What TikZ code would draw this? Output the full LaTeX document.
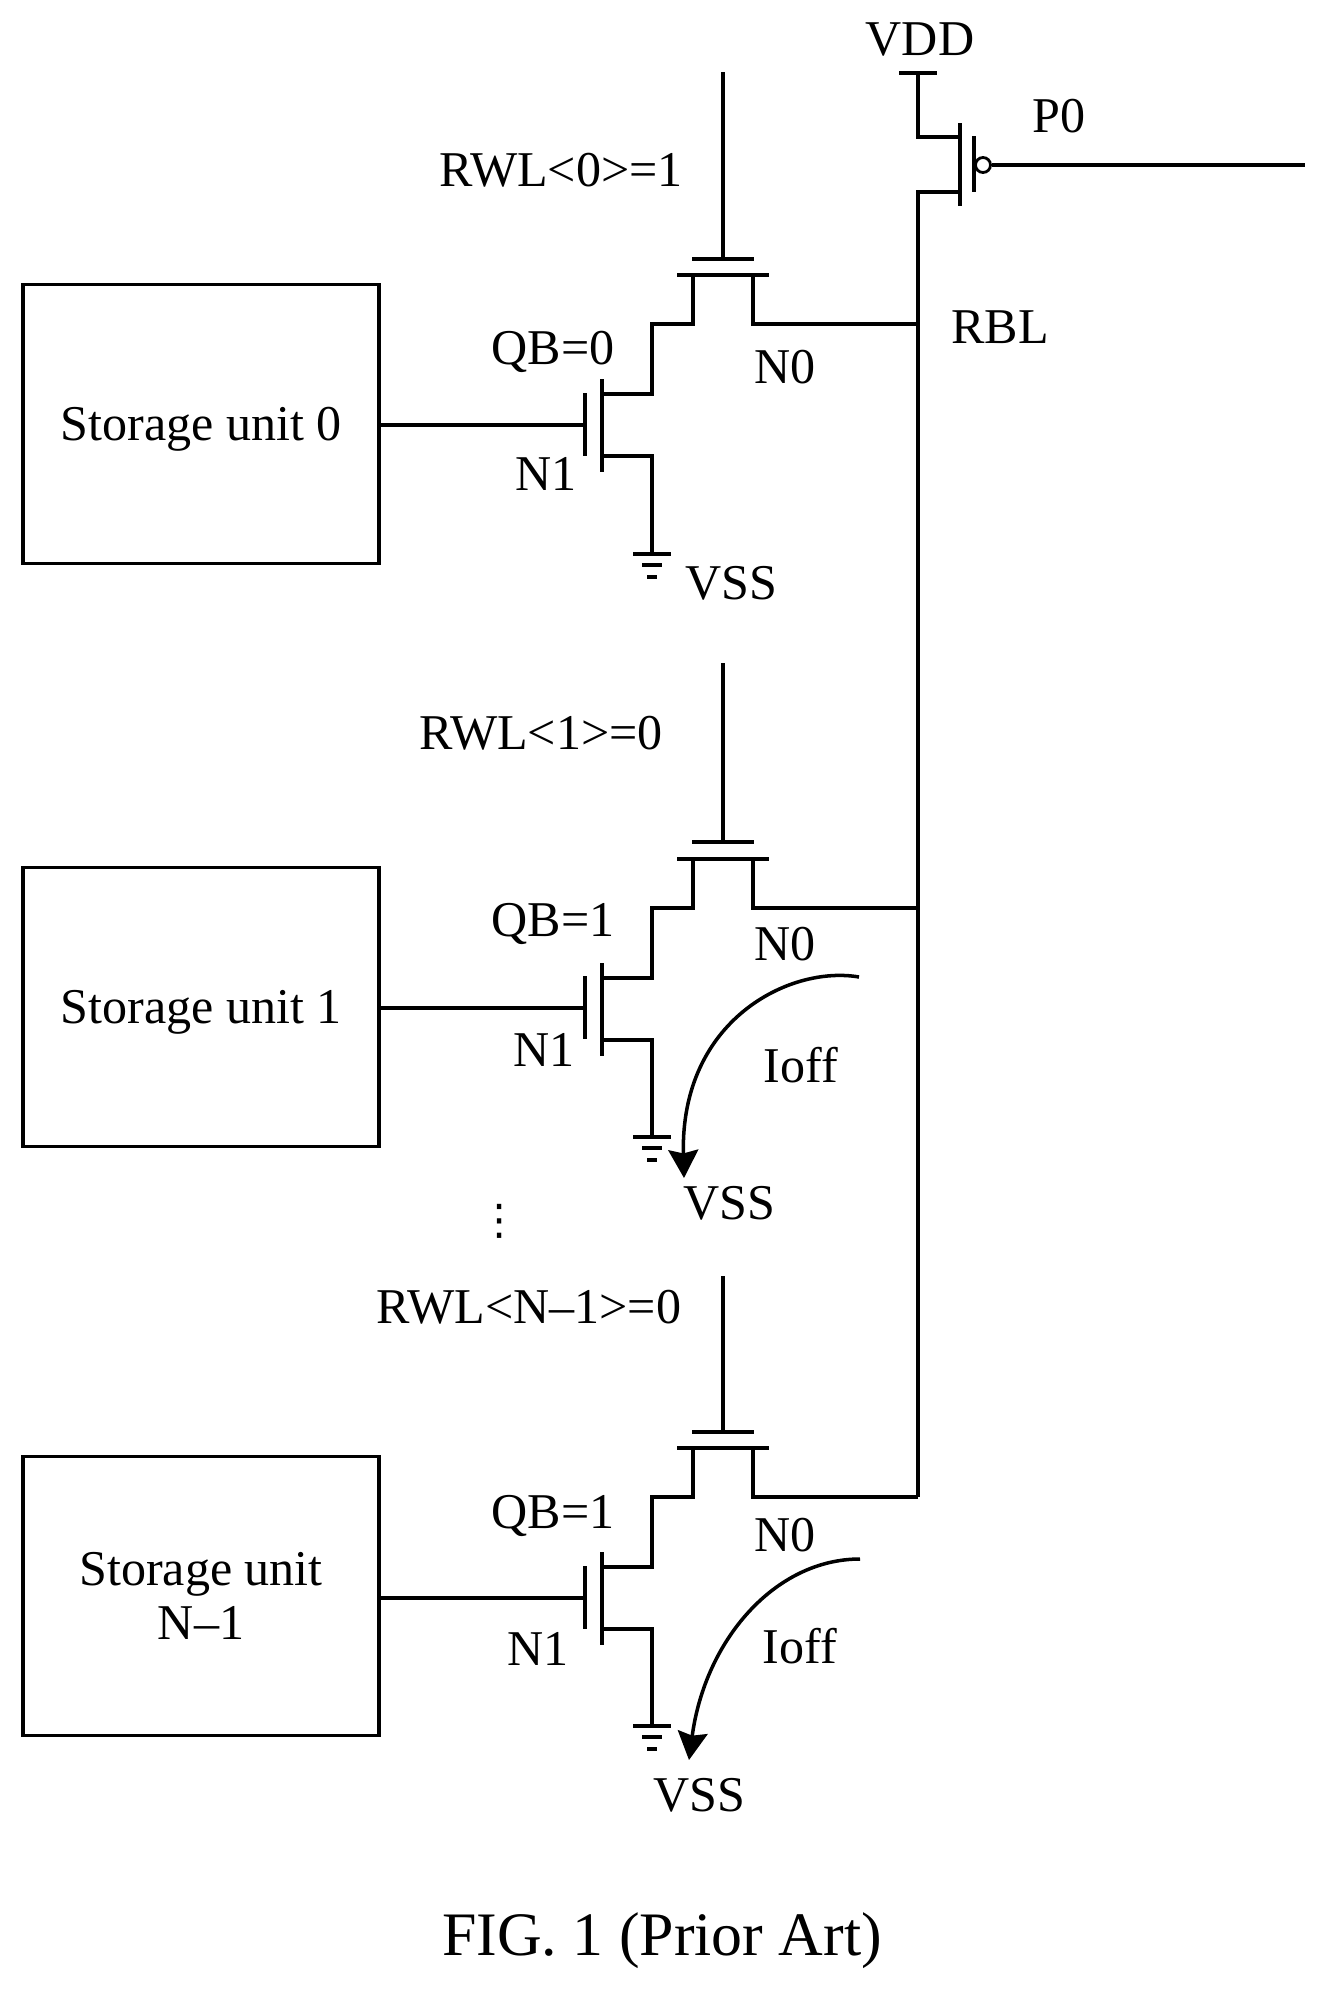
\documentclass[tikz,border=0pt]{standalone}
\usepackage{amsmath}
\usepackage{fontspec}
\setmainfont{Liberation Serif}
\newfontfamily\dotsfont{DejaVu Sans}
\usetikzlibrary{arrows.meta}
\tikzset{
  wire/.style={line width=2pt},
  unit/.style={draw, line width=2pt, minimum width=7.12cm, minimum height=5.58cm,
               align=center, inner sep=0pt, font=\fontsize{28.5}{31}\selectfont},
  lbl/.style={anchor=base, inner sep=0pt, font=\fontsize{28.5}{31}\selectfont},
  ioff/.style={line width=2pt, -{Stealth[length=16pt,width=17pt,inset=2pt]}}
}

\begin{document}
\begin{tikzpicture}[x=0.02cm, y=-0.02cm]
          \useasboundingbox (0,0) rectangle (1325,1989);

          % Storage units
          \node[unit, text depth=0pt] (st0) at (201,424)  {Storage unit 0};
          \node[unit, text depth=0pt] (st1) at (201,1007) {Storage unit 1};
          \node[unit] (st2) at (201,1596) {Storage unit\\N--1};

          % Read bit line and P0
          \coordinate (vdd) at (918,73);
          \coordinate (ps)  at (960,137);
          \coordinate (pd)  at (960,192);
          \coordinate (pb)  at (983,165);
          \coordinate (pin) at (1305,165);
          \coordinate (rb0) at (918,324);
          \coordinate (rb1) at (918,908);
          \coordinate (rb2) at (918,1497);
          \node[circle, draw, line width=1.6pt, minimum size=15*0.02cm, inner sep=0pt] (bub) at (pb) {};
          \draw[wire] (vdd) ++(-19,0) -- ++(38,0);
          \draw[wire] (vdd) |- (ps);
          \draw[wire] (pd) -| (rb2);
          \draw[wire] (rb2) -- (rb1) -- (rb0);
          \draw[wire] (960,123) -- (960,206);
          \draw[wire] (974,136) -- (974,192);
          \draw[wire] (bub) -- (pin);

          % Cell 0
          \coordinate (wl0) at (723,72);
          \coordinate (g0)  at (723,259);
          \coordinate (c0)  at (723,275);
          \coordinate (d0)  at (753,324);
          \coordinate (s0)  at (693,324);
          \coordinate (m0)  at (652,324);
          \coordinate (a0)  at (602,394);
          \coordinate (b0)  at (602,456);
          \coordinate (n0)  at (585,425);
          \coordinate (vs0) at (652,554);
          \draw[wire] (wl0) -- (g0);
          \draw[wire] (g0) ++(-31,0) -- ++(62,0);
          \draw[wire] (c0) ++(-46,0) -- ++(92,0);
          \draw[wire] (d0 |- c0) -- (d0) -- (rb0);
          \draw[wire] (s0 |- c0) -- (s0) -- (m0) |- (a0);
          \draw[wire] (b0) -| (vs0);
          \draw[wire] (a0) ++(0,-15) -- ++(0,93);
          \draw[wire] (n0) ++(0,-32) -- ++(0,63);
          \draw[wire] (st0.east |- n0) -- (n0);
          \draw[wire] (vs0) ++(-19,0) -- ++(38,0);
          \draw[wire] (vs0) ++(-10,11) -- ++(20,0);
          \draw[wire] (vs0) ++(-5,23) -- ++(10,0);

          % Cell 1
          \coordinate (wl1) at (723,663);
          \coordinate (g1)  at (723,842);
          \coordinate (c1)  at (723,859);
          \coordinate (d1)  at (753,908);
          \coordinate (s1)  at (693,908);
          \coordinate (m1)  at (652,908);
          \coordinate (a1)  at (602,978);
          \coordinate (b1)  at (602,1040);
          \coordinate (n1)  at (585,1008);
          \coordinate (vs1) at (652,1137);
          \draw[wire] (wl1) -- (g1);
          \draw[wire] (g1) ++(-31,0) -- ++(62,0);
          \draw[wire] (c1) ++(-46,0) -- ++(92,0);
          \draw[wire] (d1 |- c1) -- (d1) -- (rb1);
          \draw[wire] (s1 |- c1) -- (s1) -- (m1) |- (a1);
          \draw[wire] (b1) -| (vs1);
          \draw[wire] (a1) ++(0,-15) -- ++(0,93);
          \draw[wire] (n1) ++(0,-32) -- ++(0,63);
          \draw[wire] (st1.east |- n1) -- (n1);
          \draw[wire] (vs1) ++(-19,0) -- ++(38,0);
          \draw[wire] (vs1) ++(-10,11) -- ++(20,0);
          \draw[wire] (vs1) ++(-5,23) -- ++(10,0);

          % Cell N-1
          \coordinate (wl2) at (723,1276);
          \coordinate (g2)  at (723,1432);
          \coordinate (c2)  at (723,1448);
          \coordinate (d2)  at (753,1497);
          \coordinate (s2)  at (693,1497);
          \coordinate (m2)  at (652,1497);
          \coordinate (a2)  at (602,1567);
          \coordinate (b2)  at (602,1629);
          \coordinate (n2)  at (585,1598);
          \coordinate (vs2) at (652,1726);
          \draw[wire] (wl2) -- (g2);
          \draw[wire] (g2) ++(-31,0) -- ++(62,0);
          \draw[wire] (c2) ++(-46,0) -- ++(92,0);
          \draw[wire] (d2 |- c2) -- (d2) -- (rb2);
          \draw[wire] (s2 |- c2) -- (s2) -- (m2) |- (a2);
          \draw[wire] (b2) -| (vs2);
          \draw[wire] (a2) ++(0,-15) -- ++(0,93);
          \draw[wire] (n2) ++(0,-32) -- ++(0,63);
          \draw[wire] (st2.east |- n2) -- (n2);
          \draw[wire] (vs2) ++(-19,0) -- ++(38,0);
          \draw[wire] (vs2) ++(-10,11) -- ++(20,0);
          \draw[wire] (vs2) ++(-5,23) -- ++(10,0);

          % Leakage arrows
          \coordinate (ia1) at (859,977);
          \coordinate (ib1) at (684,1178);
          \coordinate (ia2) at (860,1559);
          \coordinate (ib2) at (689,1760);
          \draw[ioff] (ia1) .. controls (790,965) and (680,1020) .. (ib1);
          \draw[ioff] (ia2) .. controls (775,1559) and (705,1640) .. (ib2);

          % Labels
          \node[lbl] (lvdd) at (920,55)   {VDD};
          \node[lbl] (lp0)  at (1059,132) {P0};
          \node[lbl] (lrbl) at (1000,343) {RBL};
          \node[lbl] (lw0)  at (561,186)  {RWL<0>=1};
          \node[lbl] (lq0)  at (553,364)  {QB=0};
          \node[lbl] (ln00) at (785,383)  {N0};
          \node[lbl] (ln10) at (546,490)  {N1};
          \node[lbl] (lv0)  at (731,599)  {VSS};
          \node[lbl] (lw1)  at (541,749)  {RWL<1>=0};
          \node[lbl] (lq1)  at (553,936)  {QB=1};
          \node[lbl] (ln01) at (785,960)  {N0};
          \node[lbl] (ln11) at (544,1066) {N1};
          \node[lbl] (li1)  at (801,1082) {Ioff};
          \node[lbl] (lv1)  at (729,1219) {VSS};
          \node[inner sep=0pt, font=\dotsfont\fontsize{24}{24}\selectfont] (dots) at (500,1221) {⋮};
          \node[lbl] (lw2)  at (529,1323) {RWL<N--1>=0};
          \node[lbl] (lq2)  at (553,1528) {QB=1};
          \node[lbl] (ln02) at (785,1551) {N0};
          \node[lbl] (ln12) at (538,1665) {N1};
          \node[lbl] (li2)  at (800,1663) {Ioff};
          \node[lbl] (lv2)  at (699,1811) {VSS};
          \node[lbl, font=\fontsize{35.2}{40}\selectfont] (fig) at (662,1955) {FIG. 1 (Prior Art)};
      \end{tikzpicture}
\end{document}
